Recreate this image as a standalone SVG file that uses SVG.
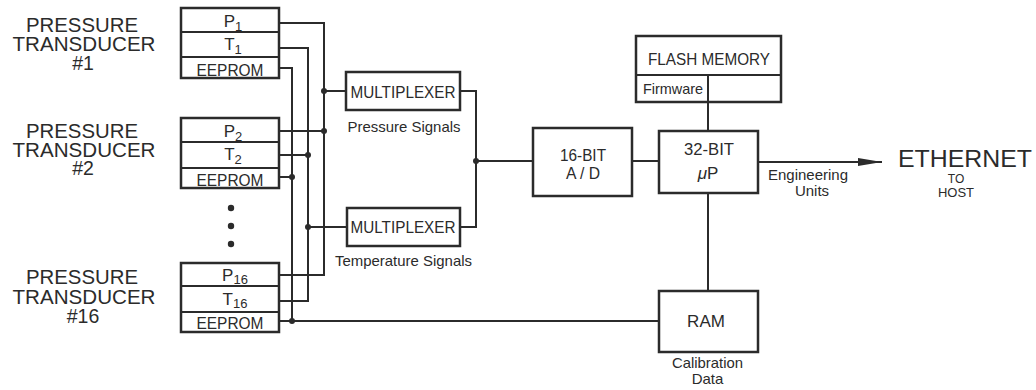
<svg xmlns="http://www.w3.org/2000/svg" width="1036" height="390" viewBox="0 0 1036 390">
<defs>
<style>
text{font-family:"Liberation Sans",Arial,sans-serif;fill:#2b2b2b;}
.box{fill:#fff;stroke:#2b2b2b;stroke-width:2.5;}
.div{fill:none;stroke:#2b2b2b;stroke-width:2;}
.wire{fill:none;stroke:#2b2b2b;stroke-width:2;}
.dot{fill:#2b2b2b;}
.big{font-size:19.5px;text-anchor:middle;}
.cell{font-size:17px;text-anchor:middle;}
.sub{font-size:13px;}
.lbl{font-size:15px;text-anchor:middle;}
.mid{text-anchor:middle;}
</style>
<marker id="arr" markerWidth="24" markerHeight="9" refX="24" refY="4.5" orient="auto" markerUnits="userSpaceOnUse">
<polygon points="0,0.5 24,4.5 0,8.5" fill="#2b2b2b"/>
</marker>
</defs>
<rect width="1036" height="390" fill="#fff"/>

<g id="label-t1">
<text class="big" x="82" y="32" textLength="112" lengthAdjust="spacingAndGlyphs">PRESSURE</text>
<text class="big" x="84" y="51" textLength="143" lengthAdjust="spacingAndGlyphs">TRANSDUCER</text>
<text class="big" x="83" y="70">#1</text>
</g>
<g id="label-t2">
<text class="big" x="82" y="138" textLength="112" lengthAdjust="spacingAndGlyphs">PRESSURE</text>
<text class="big" x="84" y="157" textLength="143" lengthAdjust="spacingAndGlyphs">TRANSDUCER</text>
<text class="big" x="83" y="175">#2</text>
</g>
<g id="label-t16">
<text class="big" x="82" y="284" textLength="112" lengthAdjust="spacingAndGlyphs">PRESSURE</text>
<text class="big" x="84" y="304" textLength="143" lengthAdjust="spacingAndGlyphs">TRANSDUCER</text>
<text class="big" x="83" y="323">#16</text>
</g>

<g id="transducer1">
<rect class="box" x="181" y="8" width="98" height="70"/>
<line class="div" x1="181" y1="32" x2="279" y2="32"/>
<line class="div" x1="181" y1="57" x2="279" y2="57"/>
<text class="cell" x="233" y="27">P<tspan class="sub" dy="4">1</tspan></text>
<text class="cell" x="233" y="50">T<tspan class="sub" dy="4">1</tspan></text>
<text class="cell" x="230" y="76" textLength="67" lengthAdjust="spacingAndGlyphs">EEPROM</text>
</g>

<g id="transducer2">
<rect class="box" x="181" y="118" width="98" height="70"/>
<line class="div" x1="181" y1="142" x2="279" y2="142"/>
<line class="div" x1="181" y1="168" x2="279" y2="168"/>
<text class="cell" x="233" y="137">P<tspan class="sub" dy="4">2</tspan></text>
<text class="cell" x="233" y="160">T<tspan class="sub" dy="4">2</tspan></text>
<text class="cell" x="230" y="186" textLength="67" lengthAdjust="spacingAndGlyphs">EEPROM</text>
</g>

<g id="ellipsis">
<circle class="dot" cx="231" cy="208" r="3.2"/>
<circle class="dot" cx="231" cy="226" r="3.2"/>
<circle class="dot" cx="231" cy="244" r="3.2"/>
</g>

<g id="transducer16">
<rect class="box" x="181" y="263" width="98" height="69"/>
<line class="div" x1="181" y1="286" x2="279" y2="286"/>
<line class="div" x1="181" y1="312" x2="279" y2="312"/>
<text class="cell" x="235" y="281">P<tspan class="sub" dy="3">16</tspan></text>
<text class="cell" x="235" y="305">T<tspan class="sub" dy="3">16</tspan></text>
<text class="cell" x="230" y="329" textLength="67" lengthAdjust="spacingAndGlyphs">EEPROM</text>
</g>

<g id="mux-pressure">
<rect class="box" x="346" y="72" width="114" height="38"/>
<text class="cell" x="403" y="98" textLength="105" lengthAdjust="spacingAndGlyphs">MULTIPLEXER</text>
<text class="lbl" x="404" y="132" textLength="113" lengthAdjust="spacingAndGlyphs">Pressure Signals</text>
</g>

<g id="mux-temperature">
<rect class="box" x="347" y="208" width="113" height="38"/>
<text class="cell" x="403" y="233" textLength="105" lengthAdjust="spacingAndGlyphs">MULTIPLEXER</text>
<text class="lbl" x="403.5" y="266" textLength="137" lengthAdjust="spacingAndGlyphs">Temperature Signals</text>
</g>

<g id="adc">
<rect class="box" x="533" y="128" width="99" height="68"/>
<text class="cell" x="583" y="161" textLength="46" lengthAdjust="spacingAndGlyphs">16-BIT</text>
<text class="cell" x="583" y="179" textLength="34" lengthAdjust="spacingAndGlyphs">A / D</text>
</g>

<g id="flash">
<rect class="box" x="636" y="36" width="145" height="66"/>
<line class="div" x1="636" y1="75" x2="781" y2="75"/>
<line class="div" x1="708" y1="75" x2="708" y2="102"/>
<text class="cell" x="709" y="65" textLength="122" lengthAdjust="spacingAndGlyphs">FLASH MEMORY</text>
<text x="643" y="94" font-size="14.5" textLength="60" lengthAdjust="spacingAndGlyphs">Firmware</text>
</g>

<g id="cpu">
<rect class="box" x="659" y="131" width="99" height="62"/>
<text class="cell" x="709" y="155" textLength="50" lengthAdjust="spacingAndGlyphs">32-BIT</text>
<text class="cell" x="708" y="179" font-size="18"><tspan font-style="italic">μ</tspan>P</text>
</g>

<g id="ram">
<rect class="box" x="659" y="291" width="99" height="61"/>
<text class="cell" x="706" y="327" font-size="16">RAM</text>
<text class="lbl" x="707.5" y="368" textLength="71" lengthAdjust="spacingAndGlyphs">Calibration</text>
<text class="lbl" x="707.5" y="384">Data</text>
</g>

<g id="ethernet">
<text x="898" y="167" font-size="24" textLength="134" lengthAdjust="spacingAndGlyphs">ETHERNET</text>
<text class="mid" x="956" y="183" font-size="12">TO</text>
<text class="mid" x="956" y="197" font-size="13">HOST</text>
</g>

<g id="connectors">
<path class="wire" d="M279,23 H324 V275 H279"/>
<path class="wire" d="M279,48 H308 V301 H279"/>
<path class="wire" d="M279,68 H292 V321"/>
<path class="wire" d="M279,321 H659"/>
<path class="wire" d="M279,131 H324"/>
<path class="wire" d="M279,155 H308"/>
<path class="wire" d="M279,177 H292"/>
<path class="wire" d="M324,91 H346"/>
<path class="wire" d="M308,227 H347"/>
<path class="wire" d="M460,91 H476 V227 H460"/>
<path class="wire" d="M476,161 H533"/>
<path class="wire" d="M632,161 H659"/>
<path class="wire" d="M708,102 V131"/>
<path class="wire" d="M708,193 V291"/>
<path class="wire" d="M758,162 H882" marker-end="url(#arr)"/>
<circle class="dot" cx="324" cy="91" r="3"/>
<circle class="dot" cx="324" cy="131" r="3"/>
<circle class="dot" cx="308" cy="155" r="3"/>
<circle class="dot" cx="292" cy="177" r="3"/>
<circle class="dot" cx="308" cy="227" r="3"/>
<circle class="dot" cx="292" cy="321" r="3"/>
<circle class="dot" cx="476" cy="161" r="3"/>
<text class="lbl" x="808" y="180" textLength="80" lengthAdjust="spacingAndGlyphs">Engineering</text>
<text class="lbl" x="812" y="196">Units</text>
</g>
</svg>
